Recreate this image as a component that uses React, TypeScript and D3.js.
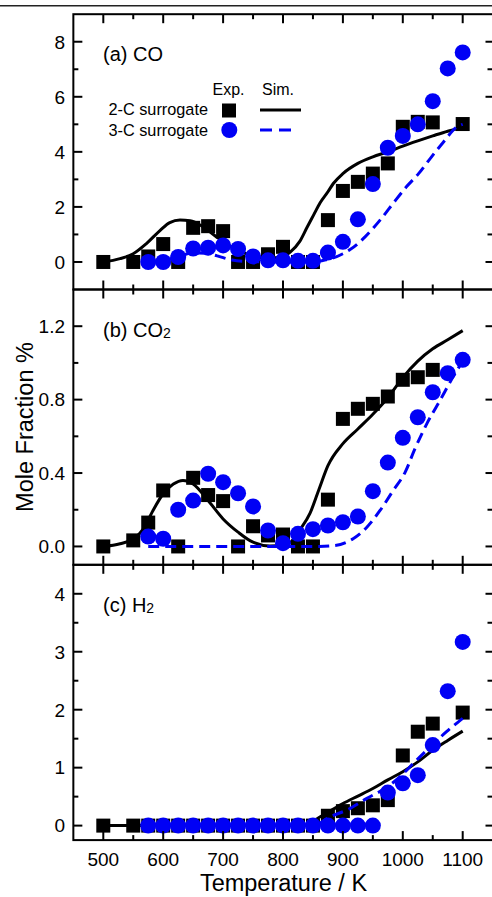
import React from "react";
import * as d3 from "d3";

// ---------- data ----------
// Panel (a) CO
const coExp2T = [500, 550, 575, 600, 625, 650, 675, 700, 725, 750, 775, 800, 825, 850, 875, 900, 925, 950, 975, 1000, 1025, 1050, 1100];
const coExp2V = [0, 0, 0.2, 0.65, 0, 1.24, 1.3, 1.12, 0, 0, 0.28, 0.55, 0, 0, 1.52, 2.58, 2.91, 3.21, 3.58, 4.91, 5.09, 5.07, 5.01];
const coExp3T = [575, 600, 625, 650, 675, 700, 725, 750, 775, 800, 825, 850, 875, 900, 925, 950, 975, 1000, 1025, 1050, 1075, 1100];
const coExp3V = [0, 0, 0.18, 0.49, 0.52, 0.6, 0.47, 0.2, 0.06, 0.06, 0.04, 0.04, 0.34, 0.73, 1.55, 2.83, 4.15, 4.58, 5.0, 5.84, 7.03, 7.61];
const coSim2T = [500, 528, 550, 572, 595, 611, 628, 645, 667, 689, 710, 730, 750, 775, 800, 812, 828, 840, 851, 862, 875, 884, 900, 925, 950, 975, 1000, 1025, 1050, 1075, 1100];
const coSim2V = [0, 0.12, 0.3, 0.67, 1.15, 1.43, 1.52, 1.5, 1.27, 0.91, 0.6, 0.38, 0.22, 0.14, 0.2, 0.36, 0.75, 1.25, 1.7, 2.15, 2.55, 2.85, 3.21, 3.58, 3.82, 4.0, 4.21, 4.4, 4.58, 4.75, 4.88];
const coSim3T = [575, 600, 625, 650, 670, 690, 715, 740, 775, 800, 830, 860, 875, 884, 900, 912, 937, 962, 984, 1006, 1026, 1048, 1068, 1090, 1100];
const coSim3V = [0, 0.05, 0.2, 0.33, 0.32, 0.22, 0.07, 0.02, 0, 0, 0, 0.03, 0.1, 0.15, 0.3, 0.45, 0.91, 1.52, 2.13, 2.73, 3.2, 3.82, 4.36, 4.9, 5.0];

// Panel (b) CO2
const co2Exp2T = [500, 550, 575, 600, 625, 650, 675, 700, 725, 750, 775, 800, 825, 850, 875, 900, 925, 950, 975, 1000, 1025, 1050];
const co2Exp2V = [0, 0.033, 0.13, 0.305, 0, 0.374, 0.28, 0.247, 0, 0.11, 0.06, 0.065, 0, 0, 0.255, 0.695, 0.75, 0.777, 0.817, 0.908, 0.922, 0.962];
const co2Exp3T = [575, 600, 625, 650, 675, 700, 725, 750, 775, 800, 825, 850, 875, 900, 925, 950, 975, 1000, 1025, 1050, 1075, 1100];
const co2Exp3V = [0.054, 0.042, 0.2, 0.25, 0.396, 0.35, 0.29, 0.218, 0.087, 0.018, 0.069, 0.094, 0.114, 0.132, 0.163, 0.301, 0.457, 0.592, 0.704, 0.84, 0.944, 1.017];
const co2Sim2T = [500, 528, 550, 567, 583, 600, 617, 633, 650, 675, 700, 725, 750, 778, 800, 815, 828, 845, 860, 875, 900, 925, 950, 975, 1000, 1025, 1050, 1075, 1100];
const co2Sim2V = [0, 0.015, 0.04, 0.096, 0.196, 0.287, 0.34, 0.36, 0.34, 0.25, 0.15, 0.078, 0.023, 0.003, 0.005, 0.03, 0.09, 0.18, 0.31, 0.44, 0.56, 0.64, 0.72, 0.81, 0.92, 1.01, 1.077, 1.126, 1.176];
const co2Sim3T = [575, 650, 750, 860, 887, 917, 940, 962, 984, 1004, 1020, 1040, 1062, 1082, 1100];
const co2Sim3V = [0, 0, 0, 0, 0.005, 0.042, 0.105, 0.196, 0.305, 0.405, 0.53, 0.668, 0.795, 0.913, 1.01];

// Panel (c) H2
const h2Exp2T = [500, 550, 575, 600, 625, 650, 675, 700, 725, 750, 775, 800, 825, 850, 875, 900, 925, 950, 975, 1000, 1025, 1050, 1100];
const h2Exp2V = [0, 0, 0, 0, 0, 0, 0, 0, 0, 0, 0, 0, 0, 0, 0.17, 0.25, 0.3, 0.35, 0.44, 1.21, 1.62, 1.76, 1.95];
const h2Exp3T = [575, 600, 625, 650, 675, 700, 725, 750, 775, 800, 825, 850, 875, 900, 925, 950, 975, 1000, 1025, 1050, 1075, 1100];
const h2Exp3V = [0, 0, 0, 0, 0, 0, 0, 0, 0, 0, 0, 0, 0, 0, 0, 0, 0.57, 0.73, 0.87, 1.39, 2.32, 3.17];
const h2Sim2T = [500, 700, 835, 850, 875, 900, 925, 950, 975, 1000, 1025, 1050, 1075, 1100];
const h2Sim2V = [0, 0, 0, 0.08, 0.23, 0.38, 0.51, 0.64, 0.79, 0.93, 1.1, 1.3, 1.47, 1.63];
const h2Sim3T = [575, 700, 850, 878, 909, 940, 970, 995, 1020, 1048, 1073, 1100];
const h2Sim3V = [0, 0, 0, 0.15, 0.28, 0.47, 0.64, 0.84, 1.1, 1.38, 1.62, 1.85];

const xTicksMajor = [500, 600, 700, 800, 900, 1000, 1100];
const xTicksMinor = [550, 650, 750, 850, 950, 1050];

const panelLabels = ["(a) CO", "(b) CO", "(c) H"];
const panelSubs = ["", "2", "2"];
const legendRows = ["2-C surrogate", "3-C surrogate"];
const legendHeads = ["Exp.", "Sim."];

// ---------- layout ----------
const W = 492;
const H = 897;
const LEFT = 73.35;
const RIGHT = 492.65;
const FRAME_R = 494.5;
const panelTops = [14.2, 289.5, 564.8];
const panelH = 275.3;
const BLUE = "#0000f5";
const FONT = "Arial, 'Liberation Sans', sans-serif";

type Panel = {
  domain: [number, number];
  major: number[];
  minor: number[];
  fmt: (v: number) => string;
  sq: [number[], number[]];
  ci: [number[], number[]];
  s2: [number[], number[]];
  s3: [number[], number[]];
};

const panels: Panel[] = [
  {
    domain: [-1, 9],
    major: [0, 2, 4, 6, 8],
    minor: [1, 3, 5, 7],
    fmt: (v) => d3.format("d")(v),
    sq: [coExp2T, coExp2V],
    ci: [coExp3T, coExp3V],
    s2: [coSim2T, coSim2V],
    s3: [coSim3T, coSim3V],
  },
  {
    domain: [-0.1, 1.4],
    major: [0, 0.4, 0.8, 1.2],
    minor: [0.2, 0.6, 1.0],
    fmt: (v) => d3.format(".1f")(v),
    sq: [co2Exp2T, co2Exp2V],
    ci: [co2Exp3T, co2Exp3V],
    s2: [co2Sim2T, co2Sim2V],
    s3: [co2Sim3T, co2Sim3V],
  },
  {
    domain: [-0.25, 4.5],
    major: [0, 1, 2, 3, 4],
    minor: [0.5, 1.5, 2.5, 3.5],
    fmt: (v) => d3.format("d")(v),
    sq: [h2Exp2T, h2Exp2V],
    ci: [h2Exp3T, h2Exp3V],
    s2: [h2Sim2T, h2Sim2V],
    s3: [h2Sim3T, h2Sim3V],
  },
];

const x = d3.scaleLinear().domain([450, 1150]).range([LEFT, RIGHT]);

function zip(t: number[], v: number[]): [number, number][] {
  return t.map((tt, i) => [tt, v[i]]);
}

function PanelView({ p, i }: { p: Panel; i: number }) {
  const top = panelTops[i];
  const bottom = top + panelH;
  const y = d3.scaleLinear().domain(p.domain).range([bottom, top]);
  const line = d3
    .line<[number, number]>()
    .x((d) => x(d[0]))
    .y((d) => y(d[1]))
    .curve(d3.curveMonotoneX);
  const MAJ = 9;
  const MIN = 5;
  const isBottom = i === 2;
  return (
    <g>
      <path d={line(zip(p.s2[0], p.s2[1])) || ""} fill="none" stroke="#000" strokeWidth={3} />
      {zip(p.sq[0], p.sq[1]).map((d, k) => (
        <rect key={"s" + k} x={x(d[0]) - 7} y={y(d[1]) - 7} width={14} height={14} fill="#000" />
      ))}
      {zip(p.ci[0], p.ci[1]).map((d, k) => (
        <circle key={"c" + k} cx={x(d[0])} cy={y(d[1])} r={8} fill={BLUE} />
      ))}
      <path
        d={line(zip(p.s3[0], p.s3[1])) || ""}
        fill="none"
        stroke={BLUE}
        strokeWidth={3}
        strokeDasharray="11,6"
      />
      {/* frame */}
      <rect x={LEFT} y={top} width={FRAME_R - LEFT} height={panelH} fill="none" stroke="#000" strokeWidth={2} />
      {xTicksMajor.map((t) => (
        <g key={"xM" + t}>
          <line x1={x(t)} x2={x(t)} y1={top} y2={top + MAJ} stroke="#000" strokeWidth={2} />
          <line x1={x(t)} x2={x(t)} y1={bottom} y2={bottom - MAJ} stroke="#000" strokeWidth={2} />
        </g>
      ))}
      {xTicksMinor.map((t) => (
        <g key={"xm" + t}>
          <line x1={x(t)} x2={x(t)} y1={top} y2={top + MIN} stroke="#000" strokeWidth={2} />
          <line x1={x(t)} x2={x(t)} y1={bottom} y2={bottom - MIN} stroke="#000" strokeWidth={2} />
        </g>
      ))}
      {p.major.map((v) => (
        <g key={"yM" + v}>
          <line x1={LEFT} x2={LEFT + MAJ} y1={y(v)} y2={y(v)} stroke="#000" strokeWidth={2} />
          <line x1={FRAME_R} x2={FRAME_R - MAJ} y1={y(v)} y2={y(v)} stroke="#000" strokeWidth={2} />
          <text x={65} y={y(v)} dy="0.36em" textAnchor="end" fontSize={19} fontFamily={FONT} fill="#000">
            {p.fmt(v)}
          </text>
        </g>
      ))}
      {p.minor.map((v) => (
        <g key={"ym" + v}>
          <line x1={LEFT} x2={LEFT + MIN} y1={y(v)} y2={y(v)} stroke="#000" strokeWidth={2} />
          <line x1={FRAME_R} x2={FRAME_R - MIN - 2} y1={y(v)} y2={y(v)} stroke="#000" strokeWidth={2} />
        </g>
      ))}
      {isBottom &&
        xTicksMajor.map((t) => (
          <text key={"xl" + t} x={x(t)} y={865.5} textAnchor="middle" fontSize={19} fontFamily={FONT} fill="#000">
            {t}
          </text>
        ))}
      <text x={103} y={top + 47} fontSize={20} fontFamily={FONT} fill="#000">
        {panelLabels[i]}
        {panelSubs[i] && (
          <tspan fontSize={14} dy={1}>
            {panelSubs[i]}
          </tspan>
        )}
      </text>
    </g>
  );
}

export default function App() {
  return (
    <div style={{ position: "absolute", left: 0, top: 0 }}>
      <svg width={W} height={H} style={{ display: "block", background: "#fff" }}>
        <rect x={0} y={0} width={W} height={H} fill="#fff" />
        <line x1={0} x2={W} y1={5.7} y2={5.7} stroke="#222" strokeWidth={1.6} />
        {panels.map((p, i) => (
          <PanelView key={i} p={p} i={i} />
        ))}
        {/* legend */}
        <text x={228.5} y={95} textAnchor="middle" fontSize={16} fontFamily={FONT}>
          {legendHeads[0]}
        </text>
        <text x={278} y={95} textAnchor="middle" fontSize={16} fontFamily={FONT}>
          {legendHeads[1]}
        </text>
        <text x={208} y={115} textAnchor="end" fontSize={16.3} fontFamily={FONT}>
          {legendRows[0]}
        </text>
        <text x={208} y={135.5} textAnchor="end" fontSize={16.3} fontFamily={FONT}>
          {legendRows[1]}
        </text>
        <rect x={222} y={103.5} width={14} height={14} fill="#000" />
        <circle cx={229.3} cy={130} r={8} fill={BLUE} />
        <line x1={260} x2={301} y1={110} y2={110} stroke="#000" strokeWidth={3} />
        <line x1={260} x2={298} y1={130} y2={130} stroke={BLUE} strokeWidth={3} strokeDasharray="12,7" />
        {/* axis titles */}
        <text x={283.5} y={891} textAnchor="middle" fontSize={23.5} fontFamily={FONT} fill="#000">
          Temperature / K
        </text>
        <text
          transform="translate(33,427) rotate(-90)"
          textAnchor="middle"
          fontSize={23.5}
          fontFamily={FONT}
          fill="#000"
        >
          Mole Fraction %
        </text>
      </svg>
    </div>
  );
}
